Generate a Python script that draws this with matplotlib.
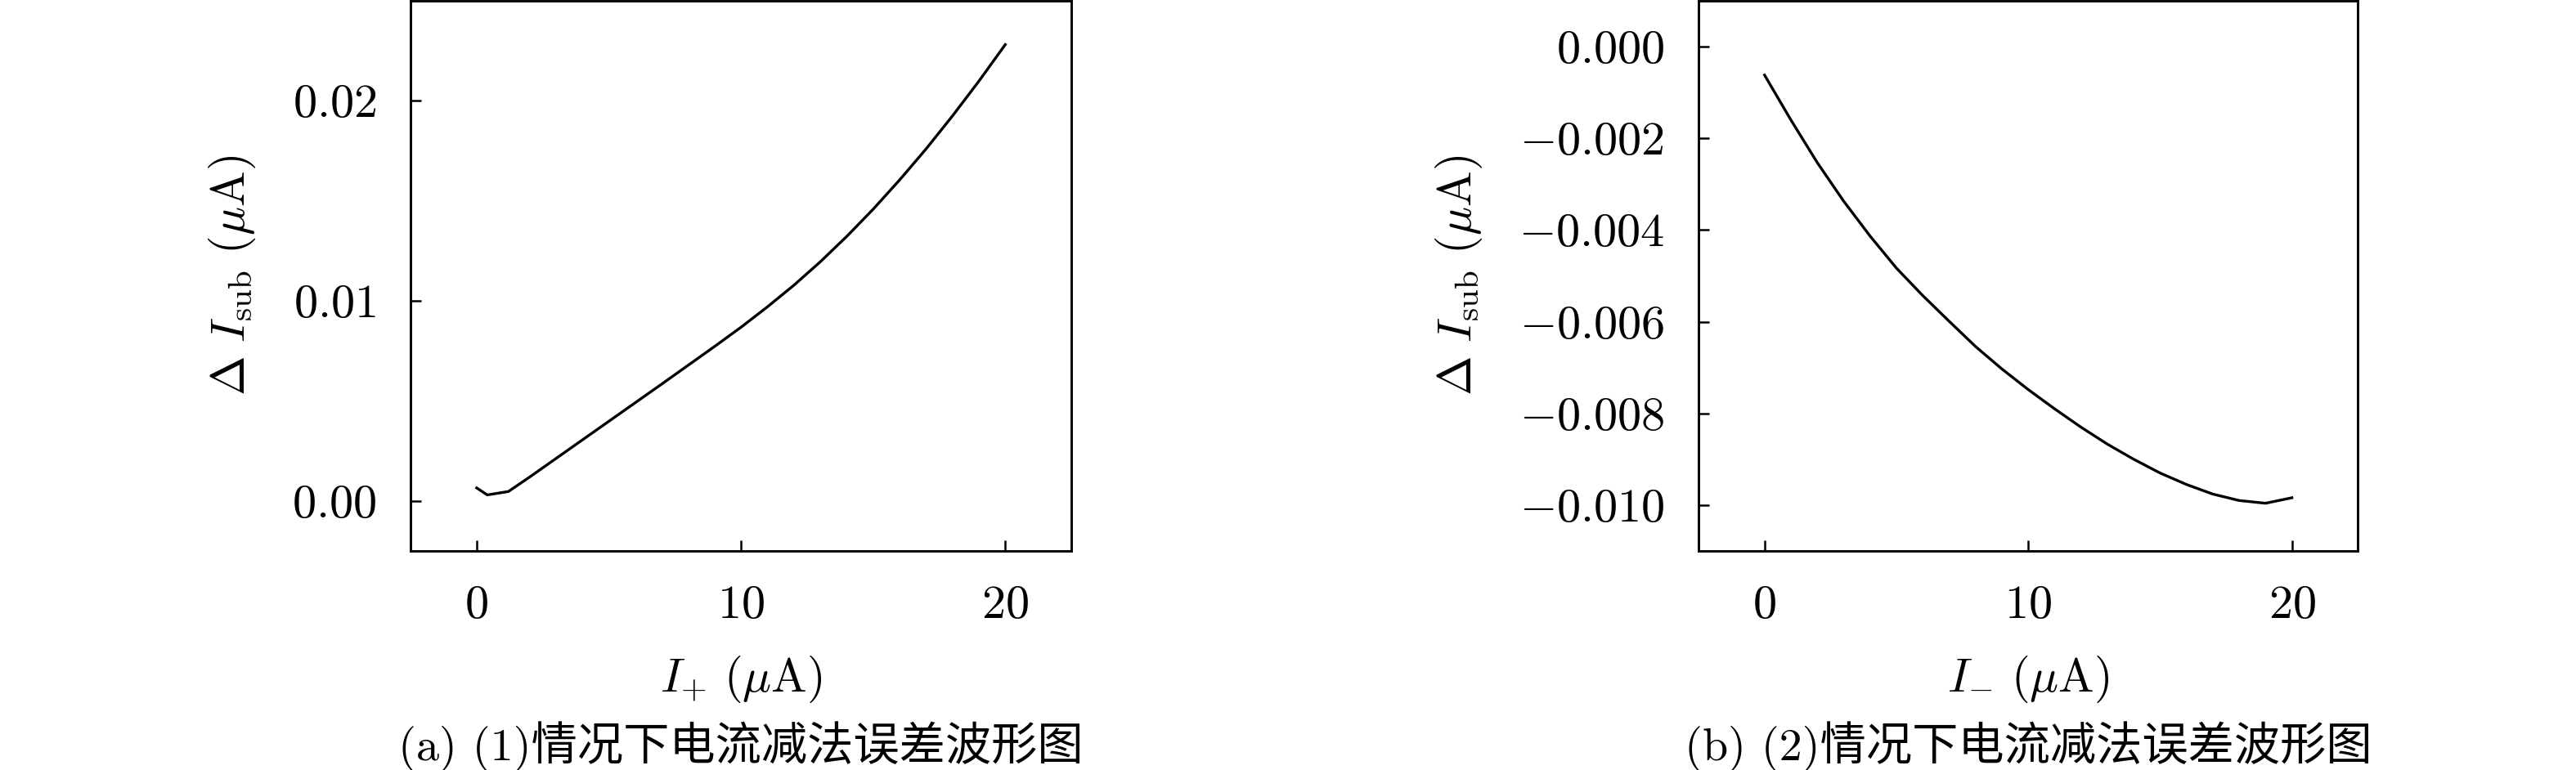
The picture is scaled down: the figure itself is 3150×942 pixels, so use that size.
import numpy as np
import matplotlib
matplotlib.use('Agg')
import matplotlib.pyplot as plt
from matplotlib.ticker import FuncFormatter

plt.rcParams['mathtext.fontset'] = 'cm'
plt.rcParams['font.family'] = ['cmr10', 'Noto Sans CJK SC', 'DejaVu Serif']
plt.rcParams['axes.formatter.use_mathtext'] = True
plt.rcParams['font.size'] = 14

# (1) I+ sweep
i_plus = [0, 0.4, 1.2, 2, 3, 4, 5, 6, 7, 8, 9, 10, 11, 12, 13, 14, 15, 16, 17, 18, 19, 20]
d_sub_plus = [0.00065, 0.00030, 0.00047, 0.00119, 0.00212, 0.00305, 0.00398, 0.00491,
              0.00584, 0.00678, 0.00772, 0.00868, 0.00970, 0.01078, 0.01195, 0.01322,
              0.01458, 0.01604, 0.01759, 0.01924, 0.02098, 0.02281]

# (2) I- sweep
i_minus = list(range(0, 21))
d_sub_minus = [-0.00062, -0.00160, -0.00253, -0.00337, -0.00413, -0.00483, -0.00543,
               -0.00599, -0.00654, -0.00703, -0.00748, -0.00790, -0.00830, -0.00867,
               -0.00900, -0.00930, -0.00955, -0.00976, -0.00990, -0.00996, -0.00984]

xticks = [0, 10, 20]
yticks_plus = [0.0, 0.01, 0.02]
yticks_minus = [0.0, -0.002, -0.004, -0.006, -0.008, -0.010]

captions = ['(a) (1)情况下电流减法误差波形图', '(b) (2)情况下电流减法误差波形图']

fig = plt.figure(figsize=(10.5, 3.14), dpi=300)
ax1 = fig.add_axes([0.1594, 0.2845, 0.2565, 0.7145])
ax2 = fig.add_axes([0.6594, 0.2845, 0.2559, 0.7145])


def style(ax, yt, fmt):
    for s in ax.spines.values():
        s.set_linewidth(0.7)
    ax.tick_params(direction='in', length=3.2, width=0.6, pad=10, labelsize=14)
    ax.set_xticks(xticks)
    ax.set_yticks(yt)
    ax.xaxis.set_major_formatter(FuncFormatter(lambda v, p: r'$%d$' % v))
    ax.yaxis.set_major_formatter(FuncFormatter(lambda v, p: r'$' + (fmt % v) + '$'))
    ax.set_xlim(-2.5, 22.5)


ylab = r'$\Delta\ I_{\mathrm{sub}}\ (\mathrm{\mu A})$'

ax1.plot(i_plus, d_sub_plus, color='black', lw=0.8)
style(ax1, yticks_plus, '%.2f')
ax1.set_ylim(-0.0025, 0.025)
ax1.set_xlabel(r'$I_{+}\ (\mathrm{\mu A})$', fontsize=14, labelpad=8)
ax1.set_ylabel(ylab, fontsize=14, labelpad=10)

ax2.plot(i_minus, d_sub_minus, color='black', lw=0.8)
style(ax2, yticks_minus, '%.3f')
ax2.set_ylim(-0.011, 0.001)
ax2.set_xlabel(r'$I_{-}\ (\mathrm{\mu A})$', fontsize=14, labelpad=8)
ax2.set_ylabel(ylab, fontsize=14, labelpad=10)

for ax, cap in zip([ax1, ax2], captions):
    pos = ax.get_position()
    fig.text((pos.x0 + pos.x1) / 2, 0.031, cap, ha='center', va='center', fontsize=13.5)

fig.savefig('out.png', dpi=300)
